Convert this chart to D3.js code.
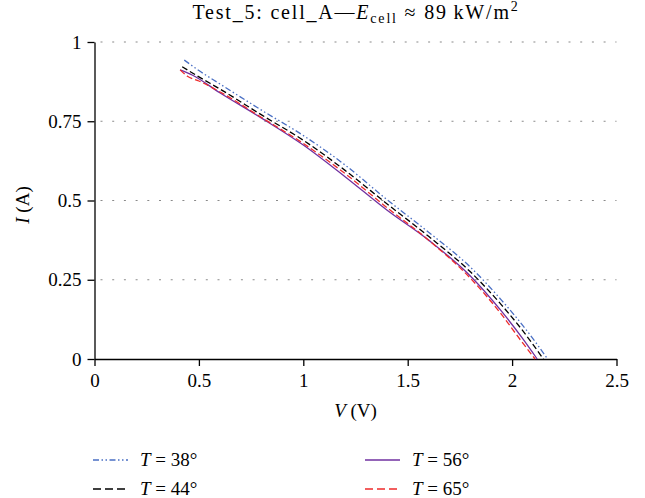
<!DOCTYPE html>
<html>
<head>
<meta charset="utf-8">
<script src="https://cdn.jsdelivr.net/npm/d3@7"></script>
<style>
  body { margin: 0; background: #fff; }
  svg, svg text { font-family: "Liberation Serif", "Times New Roman", Times, "DejaVu Serif", serif; }
</style>
</head>
<body>
<div id="chart"></div>
<script>
// data
var v38 = [0.43, 0.5, 0.6, 0.8, 1.0, 1.2, 1.4, 1.6, 1.8, 1.95, 2.07, 2.17];
var i38 = [0.943, 0.91, 0.868, 0.785, 0.705, 0.612, 0.503, 0.4, 0.29, 0.185, 0.09, 0.0];
var v44 = [0.42, 0.5, 0.6, 0.8, 1.0, 1.2, 1.4, 1.6, 1.8, 1.95, 2.05, 2.15];
var i44 = [0.922, 0.89, 0.852, 0.77, 0.69, 0.595, 0.49, 0.387, 0.275, 0.17, 0.09, 0.0];
var v56 = [0.41, 0.47, 0.6, 0.8, 1.0, 1.2, 1.4, 1.6, 1.8, 1.95, 2.05, 2.12];
var i56 = [0.912, 0.895, 0.84, 0.76, 0.675, 0.575, 0.47, 0.375, 0.262, 0.15, 0.065, 0.0];
var v65 = [0.41, 0.445, 0.5, 0.6, 0.8, 1.0, 1.2, 1.4, 1.6, 1.8, 1.95, 2.04, 2.11];
var i65 = [0.912, 0.892, 0.877, 0.843, 0.762, 0.68, 0.585, 0.478, 0.375, 0.255, 0.14, 0.06, 0.0];

var temps = ["38", "44", "56", "65"];
var xTicks = [0, 0.5, 1, 1.5, 2, 2.5];
var xTickLabels = ["0", "0.5", "1", "1.5", "2", "2.5"];
var yTicks = [0, 0.25, 0.5, 0.75, 1];
var yTickLabels = ["0", "0.25", "0.5", "0.75", "1"];

var series = [
  {t: temps[0], v: v38, i: i38, color: "#4a6fc4", dash: "6,2.5,1.5,2.5,1.5,2.5"},
  {t: temps[1], v: v44, i: i44, color: "#000000", dash: "6,3"},
  {t: temps[2], v: v56, i: i56, color: "#7030a0", dash: null},
  {t: temps[3], v: v65, i: i65, color: "#ee2a2a", dash: "6,3"}
];

var serif = "'Liberation Serif', 'Times New Roman', Times, 'DejaVu Serif', serif";
var width = 645, height = 498;
var x = d3.scaleLinear().domain([0, 2.5]).range([94.5, 616.5]);
var y = d3.scaleLinear().domain([0, 1]).range([359, 42]);

var svg = d3.select("#chart").append("svg")
    .attr("width", width)
    .attr("height", height)
    .style("font-family", serif);

// dotted grid
svg.append("g")
    .selectAll("line")
    .data(yTicks.filter(function(d){ return d > 0; }))
    .enter()
    .append("line")
    .attr("x1", x(0) + 6)
    .attr("x2", x(2.5))
    .attr("y1", function(d){ return y(d); })
    .attr("y2", function(d){ return y(d); })
    .attr("stroke", "#8a8a8a")
    .attr("stroke-width", 1.2)
    .attr("stroke-dasharray", "2,9.7");

// axes
var xAxis = d3.axisBottom(x)
    .tickValues(xTicks)
    .tickFormat(function(d,i){ return xTickLabels[i]; })
    .tickSize(7)
    .tickSizeOuter(0)
    .tickPadding(8);

var yAxis = d3.axisLeft(y)
    .tickValues(yTicks)
    .tickFormat(function(d,i){ return yTickLabels[i]; })
    .tickSize(7)
    .tickSizeOuter(0)
    .tickPadding(6);

var gx = svg.append("g")
    .attr("transform", "translate(0," + y(0) + ")")
    .call(xAxis);
var gy = svg.append("g")
    .attr("transform", "translate(" + x(0) + ",0)")
    .call(yAxis);

[gx, gy].forEach(function(g){
    g.attr("font-family", null).attr("font-size", null);
    g.selectAll("path, line").attr("stroke", "#000").attr("stroke-width", 1.3);
    g.selectAll("text")
        .attr("fill", "#000")
        .style("font-family", serif)
        .attr("font-size", 19);
});

// curves
var line = d3.line()
    .x(function(d){ return x(d[0]); })
    .y(function(d){ return y(d[1]); })
    .curve(d3.curveMonotoneX);

svg.append("g")
    .selectAll("path")
    .data(series)
    .enter()
    .append("path")
    .attr("d", function(s){ return line(d3.zip(s.v, s.i)); })
    .attr("fill", "none")
    .attr("stroke", function(s){ return s.color; })
    .attr("stroke-width", 1.3)
    .attr("stroke-dasharray", function(s){ return s.dash; });

// title
var title = svg.append("text")
    .attr("x", 356)
    .attr("y", 19)
    .attr("text-anchor", "middle")
    .attr("font-size", 20)
    .attr("letter-spacing", 1.8);
title.append("tspan").text("Test_5: cell_A\u2014");
title.append("tspan").attr("font-style", "italic").text("E");
title.append("tspan").attr("font-size", 14).attr("dy", 4).text("cell");
title.append("tspan").attr("dy", -4).text(" \u2248 89\u2009kW/m");
title.append("tspan").attr("font-size", 14).attr("dy", -8).text("2");

// axis labels
var xl = svg.append("text")
    .attr("x", x(1.25))
    .attr("y", 417)
    .attr("text-anchor", "middle")
    .attr("font-size", 19);
xl.append("tspan").attr("font-style", "italic").text("V");
xl.append("tspan").text(" (V)");

var yl = svg.append("text")
    .attr("transform", "translate(29,205) rotate(-90)")
    .attr("text-anchor", "middle")
    .attr("font-size", 19);
yl.append("tspan").attr("font-style", "italic").text("I");
yl.append("tspan").text(" (A)");

// legend
var legend = svg.append("g")
    .selectAll("g")
    .data(series)
    .enter()
    .append("g")
    .attr("transform", function(d,i){
        var col = i < 2 ? 0 : 1;
        var row = i % 2;
        return "translate(" + (col === 0 ? 93 : 365) + "," + (row === 0 ? 460 : 489) + ")";
    });

legend.append("line")
    .attr("x1", 0)
    .attr("x2", 35)
    .attr("y1", 0)
    .attr("y2", 0)
    .attr("stroke", function(d){ return d.color; })
    .attr("stroke-width", 1.3)
    .attr("stroke-dasharray", function(d){ return d.dash === "6,3" ? "8,4" : d.dash; });

var lt = legend.append("text")
    .attr("x", 47)
    .attr("y", 6)
    .attr("font-size", 19);
lt.append("tspan").attr("font-style", "italic").text("T");
lt.append("tspan").text(function(d){ return " = " + d.t + "\u00b0"; });
</script>
</body>
</html>
